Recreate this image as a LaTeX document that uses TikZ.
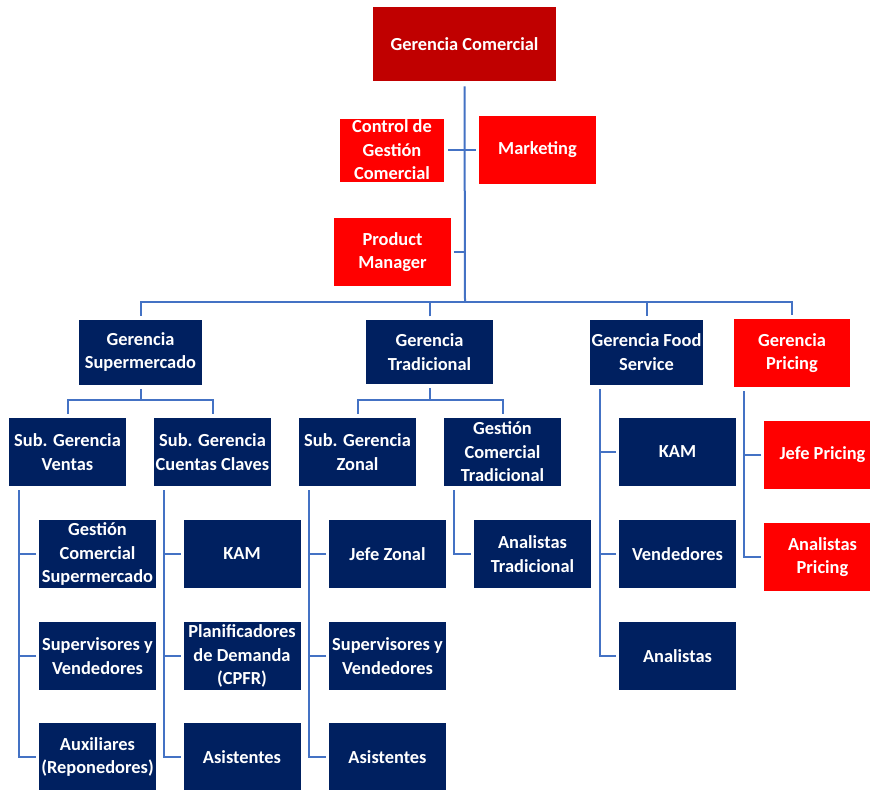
\documentclass[tikz,border=0pt]{standalone}
\usepackage{fontspec}
\setmainfont{Carlito}
\usetikzlibrary{calc}
\definecolor{navyfill}{HTML}{002060}
\definecolor{brightred}{HTML}{FF0000}
\definecolor{deepred}{HTML}{C00000}
\definecolor{linkblue}{HTML}{4472C4}

\begin{document}
\begin{tikzpicture}[x=0.75pt,y=-0.75pt,
  box/.style={rectangle, inner sep=0pt, align=center, text=white,
    font=\bfseries\fontsize{13.8}{17.6}\selectfont,
    minimum width=87.75pt, minimum height=51pt},
  navybox/.style={box, fill=navyfill},
  redbox/.style={box, fill=brightred},
  conn/.style={draw=linkblue, line width=1.5pt}]

\fill[white] (0,0) rectangle (870,789);
\useasboundingbox (0,0) rectangle (870,789);

% top management
\node[box, fill=deepred, minimum width=137.25pt, minimum height=55.5pt] (gc) at (464.5,44) {Gerencia Comercial};
\node[redbox, minimum width=78pt, minimum height=47.25pt] (cgc) at (392,150) {Control de\\Gestión\\Comercial};
\node[redbox] (mkt) at (537.5,150) {Marketing};
\node[redbox] (pm) at (392.5,252) {Product\\Manager};

% second level
\node[navybox, minimum width=92.25pt, minimum height=48.75pt] (gsup) at (140.5,352) {Gerencia\\Supermercado};
\node[navybox, minimum width=95.25pt, minimum height=48pt] (gtra) at (429.5,352) {Gerencia\\Tradicional};
\node[navybox, minimum width=84.75pt, minimum height=48.75pt] (gfs) at (646.5,352) {Gerencia Food\\Service};
\node[redbox, minimum width=87pt, minimum height=51pt] (gpr) at (792,353) {Gerencia\\Pricing};

% sub-managements
\node[navybox] (sv)  at (67.5,452)  {Sub. Gerencia\\Ventas};
\node[navybox] (scc) at (212.5,452) {Sub. Gerencia\\Cuentas Claves};
\node[navybox] (sz)  at (357.5,452) {Sub. Gerencia\\Zonal};
\node[navybox] (gct) at (502.5,452) {Gestión\\Comercial\\Tradicional};

% staff
\node[navybox] (sv1) at (97.5,554) {Gestión\\Comercial\\Supermercado};
\node[navybox] (sv2) at (97.5,656) {Supervisores y\\Vendedores};
\node[navybox] (sv3) at (97.5,757) {Auxiliares\\(Reponedores)};

\node[navybox] (cc1) at (242,554) {KAM};
\node[navybox] (cc2) at (242,656) {Planificadores\\de Demanda\\(CPFR)};
\node[navybox] (cc3) at (242,757) {Asistentes};

\node[navybox] (z1) at (387.5,554) {Jefe Zonal};
\node[navybox] (z2) at (387.5,656) {Supervisores y\\Vendedores};
\node[navybox] (z3) at (387.5,757) {Asistentes};

\node[navybox] (t1) at (532.5,554) {Analistas\\Tradicional};

\node[navybox] (f1) at (677.5,452) {KAM};
\node[navybox] (f2) at (677.5,554) {Vendedores};
\node[navybox] (f3) at (677.5,656) {Analistas};

\node[redbox] (p1) at (822.5,455) {Jefe Pricing};
\node[redbox] (p2) at (822.5,557) {Analistas\\Pricing};

% main spine and bus
\coordinate (bus) at (465,302);
\draw[conn] ([yshift=-3.75pt]gc.south) -- (bus);
\draw[conn] ([xshift=3pt]cgc.east) -- ([xshift=-2.25pt]mkt.west);
\draw[conn] ([xshift=2pt]pm.east) -- (pm.east -| bus);
\draw[conn] ([yshift=2.5pt]gsup.north) |- (bus) -| ([yshift=2.5pt]gpr.north);
\draw[conn] ([yshift=2.5pt]gtra.north) -- (gtra.north |- bus);
\draw[conn] ([yshift=2.5pt]gfs.north) -- (gfs.north |- bus);

% sub-buses
\coordinate (sbs) at (140.5,400);
\draw[conn] ([yshift=-3pt]gsup.south) -- (sbs);
\draw[conn] ([yshift=3pt]sv.north) |- (sbs) -| ([yshift=3pt]scc.north);
\coordinate (sbt) at (429.5,400);
\draw[conn] ([yshift=-3pt]gtra.south) -- (sbt);
\draw[conn] ([yshift=3pt]sz.north) |- (sbt) -| ([yshift=3pt]gct.north);

% trunks to staff
\coordinate (tv) at ([xshift=8pt,yshift=-3pt]sv.south west);
\draw[conn] (tv) |- ([xshift=-2pt]sv3.west);
\draw[conn] ([xshift=-2pt]sv1.west) -- (sv1.west -| tv);
\draw[conn] ([xshift=-2pt]sv2.west) -- (sv2.west -| tv);

\coordinate (tc) at ([xshift=8pt,yshift=-3pt]scc.south west);
\draw[conn] (tc) |- ([xshift=-2pt]cc3.west);
\draw[conn] ([xshift=-2pt]cc1.west) -- (cc1.west -| tc);
\draw[conn] ([xshift=-2pt]cc2.west) -- (cc2.west -| tc);

\coordinate (tz) at ([xshift=7.5pt,yshift=-3pt]sz.south west);
\draw[conn] (tz) |- ([xshift=-2pt]z3.west);
\draw[conn] ([xshift=-2pt]z1.west) -- (z1.west -| tz);
\draw[conn] ([xshift=-2pt]z2.west) -- (z2.west -| tz);

\coordinate (tt) at ([xshift=7.5pt,yshift=-3pt]gct.south west);
\draw[conn] (tt) |- ([xshift=-2pt]t1.west);

\coordinate (tf) at ([xshift=7.5pt,yshift=-3pt]gfs.south west);
\draw[conn] (tf) |- ([xshift=-2pt]f3.west);
\draw[conn] ([xshift=-2pt]f1.west) -- (f1.west -| tf);
\draw[conn] ([xshift=-2pt]f2.west) -- (f2.west -| tf);

\coordinate (tp) at ([xshift=7.5pt,yshift=-3pt]gpr.south west);
\draw[conn] (tp) |- ([xshift=-2pt]p2.west);
\draw[conn] ([xshift=-2pt]p1.west) -- (p1.west -| tp);

\end{tikzpicture}
\end{document}
